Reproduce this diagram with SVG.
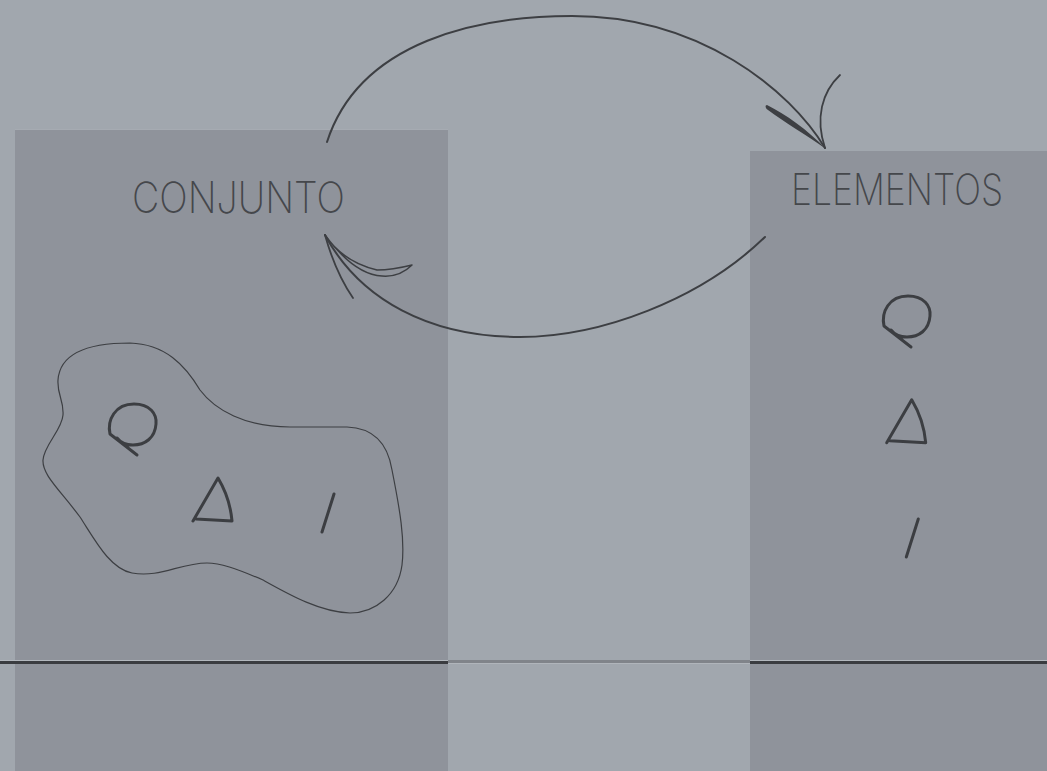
<svg xmlns="http://www.w3.org/2000/svg" xmlns:xlink="http://www.w3.org/1999/xlink" width="1047" height="771" viewBox="0 0 1047 771">
  <style>
    .panel { fill: #8f939b; }
    .label { font-family: Inter, "Liberation Sans", sans-serif; font-weight: 200; font-size: 43px; fill: #45474b; }
    .ink { fill: none; stroke: #3d3f43; stroke-linecap: round; stroke-linejoin: round; }
    .glyph { fill: none; stroke: #3c3e42; stroke-width: 3; stroke-linecap: round; stroke-linejoin: round; }
  </style>
  <defs>
    <!-- hand-drawn element glyphs, drawn at their left-hand positions -->
    <path id="loop" class="glyph" d="M137,455 L110,434 C107,420 115,404 134,404 C150,404 157,414 156,424 C155,438 145,445 133,445 C126,445 120,442 117,438"/>
    <path id="tri" class="glyph" d="M193,521 L218,478 Q230,498 232,521 L196,519"/>
    <path id="bar" class="glyph" d="M334,494 L322,532"/>
  </defs>

  <!-- backdrop -->
  <rect width="1047" height="771" fill="#a1a7ae"/>

  <!-- ground line -->
  <g id="ground">
    <rect x="0" y="660" width="1047" height="1" fill="#b3b8be"/>
    <rect x="0" y="661" width="1047" height="3" fill="#3a3c40"/>
    <rect x="448" y="660" width="302" height="3" fill="#80848a"/>
    <rect x="448" y="663" width="302" height="1" fill="#b0b5bb"/>
  </g>

  <!-- set panel -->
  <g id="conjunto">
    <rect class="panel" x="15" y="129" width="433" height="531"/>
    <rect class="panel" x="15" y="664" width="433" height="107"/>
    <line x1="15" y1="129.5" x2="448" y2="129.5" stroke="#a6abb2" stroke-width="1"/>
    <text class="label" x="132" y="213" textLength="213" lengthAdjust="spacingAndGlyphs">CONJUNTO</text>
    <path class="ink" stroke-width="1.2" d="M58,380 C60,352 90,343 130,343 C165,344 185,365 200,390 C215,410 245,427 290,427 L347,427 C375,428 388,445 392,470 C400,510 405,540 402,565 C398,595 375,613 350,613 C320,612 290,595 263,580 C235,568 220,563 207,563 C180,563 160,578 132,573 C110,569 95,540 80,517 C60,490 42,475 43,460 C44,445 62,430 63,415 C64,400 57,395 58,380 Z"/>
    <use xlink:href="#loop"/>
    <use xlink:href="#tri"/>
    <use xlink:href="#bar"/>
  </g>

  <!-- elements panel -->
  <g id="elementos">
    <rect class="panel" x="750" y="151" width="297" height="509"/>
    <rect class="panel" x="750" y="664" width="297" height="107"/>
    <text class="label" x="791" y="205" textLength="212" lengthAdjust="spacingAndGlyphs">ELEMENTOS</text>
    <use xlink:href="#loop" transform="translate(774,-108)"/>
    <use xlink:href="#tri" transform="translate(693.7,-78.3)"/>
    <use xlink:href="#bar" transform="translate(584.3,25)"/>
  </g>

  <!-- connectors -->
  <g id="connectors">
    <!-- set to elements, over the top -->
    <path class="ink" stroke-width="2" d="M327,142 C360,40 480,16 572,16 C700,16 790,90 825,148"/>
    <path fill="#3d3f43" d="M767,105 C785,114 808,130 826,149 C805,134 784,122 768,110 C765,108 765,105 767,105 Z"/>
    <path class="ink" stroke-width="1.8" d="M840,75 C822,92 815,118 825,148"/>
    <!-- elements back to set, underneath -->
    <path class="ink" stroke-width="2" d="M765,237 C700,300 600,337 520,337 C430,337 360,300 325,235"/>
    <path class="ink" stroke-width="1.8" d="M325,235 C332,260 342,282 353,298"/>
    <path class="ink" stroke-width="1.5" d="M325,235 C335,250 352,264 377,270 C390,270 400,268 412,265 C404,273 394,277 382,276 C362,275 342,258 325,235 Z"/>
  </g>
</svg>
